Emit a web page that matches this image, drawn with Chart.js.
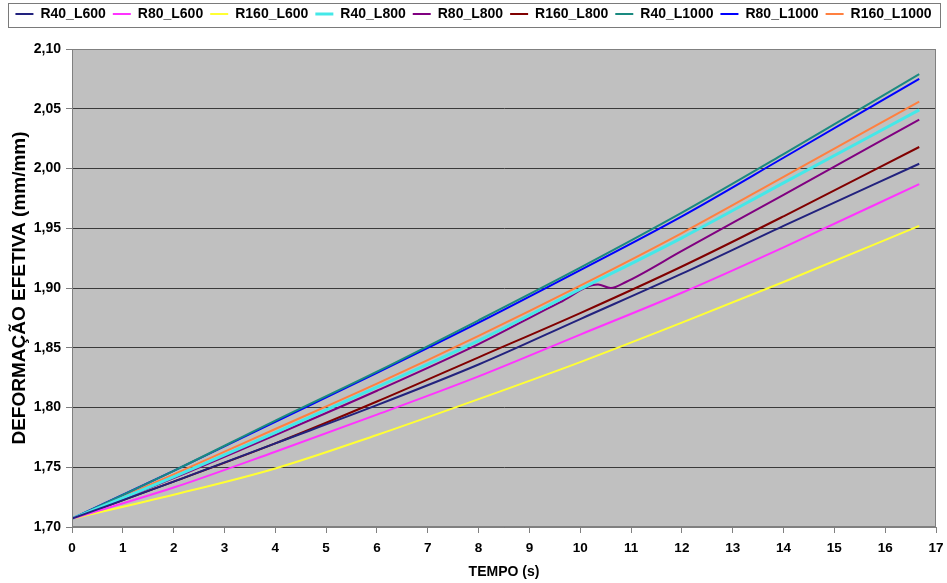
<!DOCTYPE html>
<html>
<head>
<meta charset="utf-8">
<script src="https://cdn.jsdelivr.net/npm/chart.js@4.4.0/dist/chart.umd.min.js"></script>
<style>
html,body{margin:0;padding:0;background:#fff;}
canvas{display:block;}
</style>
</head>
<body>
<canvas id="c" width="947" height="583"></canvas>
<script>
// ---- data ----
const seriesNames = ["R40_L600","R80_L600","R160_L600","R40_L800","R80_L800","R160_L800","R40_L1000","R80_L1000","R160_L1000"];
const times      = [0, 2, 4, 6, 8, 10, 12, 14, 16.67];
const timesKink  = [0, 2, 4, 6, 8, 9.6, 10.35, 10.6, 10.9, 12, 14, 16.67];
const R40_L600   = [1.707, 1.738, 1.770, 1.802, 1.836, 1.874, 1.912, 1.952, 2.004];
const R80_L600   = [1.707, 1.733, 1.763, 1.794, 1.826, 1.861, 1.896, 1.934, 1.987];
const R160_L600  = [1.707, 1.727, 1.749, 1.777, 1.807, 1.838, 1.871, 1.905, 1.952];
const R40_L800   = [1.707, 1.742, 1.779, 1.817, 1.856, 1.899, 1.942, 1.988, 2.049];
const R80_L800   = [1.707, 1.741, 1.777, 1.814, 1.853, 1.888, 1.903, 1.900, 1.905, 1.931, 1.978, 2.041];
const R160_L800  = [1.707, 1.738, 1.770, 1.805, 1.842, 1.879, 1.918, 1.960, 2.018];
const R40_L1000  = [1.707, 1.747, 1.789, 1.830, 1.873, 1.917, 1.963, 2.012, 2.079];
const R80_L1000  = [1.707, 1.747, 1.788, 1.829, 1.871, 1.915, 1.960, 2.009, 2.075];
const R160_L1000 = [1.707, 1.744, 1.782, 1.820, 1.860, 1.902, 1.946, 1.993, 2.056];
const xTicks = [0,1,2,3,4,5,6,7,8,9,10,11,12,13,14,15,16,17];
const yTicks = [1.70,1.75,1.80,1.85,1.90,1.95,2.00,2.05,2.10];

// ---- styles ----
const colors = ["#22227e","#ff33ff","#ffff33","#44e8e8","#800080","#800000","#1a8a80","#0000ff","#ff8040"];
const widths = [2,2,2,3,2,2,2,2,2];
const seriesValues = [R40_L600,R80_L600,R160_L600,R40_L800,R80_L800,R160_L800,R40_L1000,R80_L1000,R160_L1000];
const seriesTimes  = [times,times,times,times,timesKink,times,times,times,times];

const datasets = seriesNames.map((name,i)=>({
  label: name,
  data: seriesValues[i].map((v,j)=>({x: seriesTimes[i][j], y: v})),
  borderColor: colors[i],
  backgroundColor: colors[i],
  borderWidth: widths[i],
  pointRadius: 0,
  cubicInterpolationMode: 'monotone',
  fill: false
}));

const FONT = "'Liberation Sans', Arial, sans-serif";

const framePlugin = {
  id: 'frame',
  beforeInit(chart){
    const lg = chart.legend;
    if (lg) {
      const orig = lg.fit;
      lg.fit = function(){ orig.call(this); this.height = 49; };
    }
  },
  beforeDraw(chart){
    const {ctx, chartArea:a} = chart;
    ctx.save();
    ctx.fillStyle = '#c0c0c0';
    ctx.fillRect(a.left, a.top, a.right-a.left, a.bottom-a.top);
    ctx.restore();
  },
  afterDraw(chart){
    const {ctx, chartArea:a} = chart;
    ctx.save();
    ctx.strokeStyle = '#808080';
    ctx.lineWidth = 1;
    ctx.strokeRect(a.left+0.5, a.top+0.5, a.right-a.left-1, a.bottom-a.top-1);
    ctx.strokeStyle = '#7a7a7a';
    ctx.strokeRect(8.5, 3.5, 932, 24);
    ctx.restore();
  }
};

new Chart(document.getElementById('c'), {
  type: 'line',
  data: { datasets },
  options: {
    responsive: false,
    animation: false,
    devicePixelRatio: 1,
    layout: { padding: 0 },
    plugins: {
      legend: {
        position: 'top',
        labels: {
          usePointStyle: true,
          pointStyle: 'line',
          pointStyleWidth: 18,
          boxWidth: 18,
          boxHeight: 14,
          padding: 7,
          color: '#000',
          font: { family: FONT, size: 14, weight: 'bold' }
        }
      },
      tooltip: { enabled: false }
    },
    scales: {
      x: {
        type: 'linear',
        min: 0, max: 17,
        afterFit(s){ s.height = 56; s.paddingLeft = 0; s.paddingRight = 11; },
        afterBuildTicks(s){ s.ticks = xTicks.map(v=>({value:v})); },
        ticks: { color: '#000', padding: 7, maxRotation: 0, autoSkip: false,
                 font: { family: FONT, size: 13.5, weight: 'bold' } },
        grid: { drawOnChartArea: false, drawTicks: true, tickLength: 6, tickColor: '#808080' },
        border: { color: '#808080' },
        title: { display: true, text: 'TEMPO (s)', color: '#000', padding: {top: 4, bottom: 2},
                 font: { family: FONT, size: 14, weight: 'bold' } }
      },
      y: {
        min: 1.70, max: 2.10,
        afterFit(s){ s.width = 72; },
        afterBuildTicks(s){ s.ticks = yTicks.map(v=>({value:v})); },
        ticks: { color: '#000', padding: 5,
                 callback: v => Number(v).toFixed(2).replace('.', ','),
                 font: { family: FONT, size: 14, weight: 'bold' } },
        grid: { color: '#3a3a3a', lineWidth: 1, tickLength: 6, tickColor: '#808080' },
        border: { color: '#808080' },
        title: { display: true, text: 'DEFORMAÇÃO EFETIVA (mm/mm)', color: '#000', padding: {top: 8, bottom: 2},
                 font: { family: FONT, size: 19, weight: 'bold' } }
      }
    }
  },
  plugins: [framePlugin]
});
</script>
</body>
</html>
